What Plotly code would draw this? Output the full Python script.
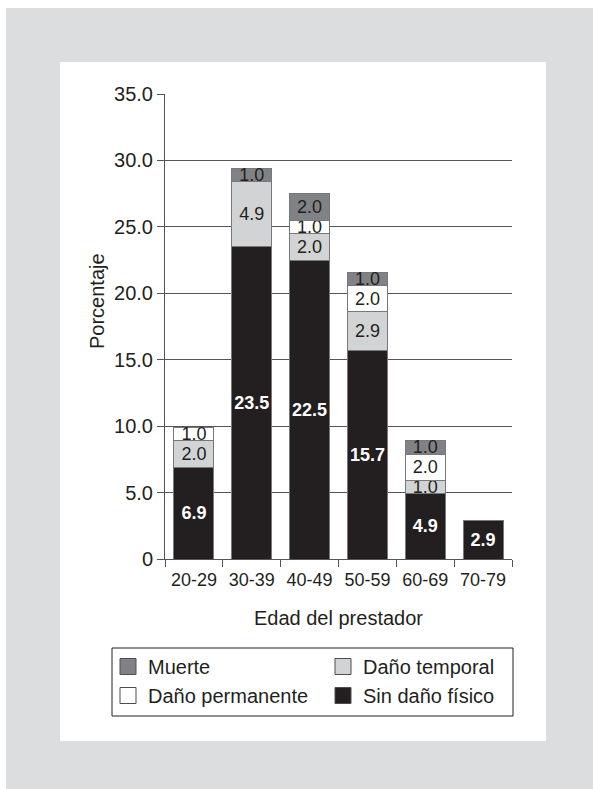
import plotly.graph_objects as go

# ---------------- data ----------------
categories = ["20-29", "30-39", "40-49", "50-59", "60-69", "70-79"]
sin_dano = [6.9, 23.5, 22.5, 15.7, 4.9, 2.9]
dano_temporal = [2.0, 4.9, 2.0, 2.9, 1.0, None]
dano_permanente = [1.0, None, 1.0, 2.0, 2.0, None]
muerte = [None, 1.0, 2.0, 1.0, 1.0, None]
series_names = ["Sin daño físico", "Daño temporal", "Daño permanente", "Muerte"]
y_tickvals = [0, 5, 10, 15, 20, 25, 30, 35]
y_ticktext = ["0", "5.0", "10.0", "15.0", "20.0", "25.0", "30.0", "35.0"]
x_title = "Edad del prestador"
y_title = "Porcentaje"

# ---------------- style ----------------
W, H = 593, 789
ML, MR, MT, MB = 165, 81, 94, 230
PW, PH = W - ML - MR, H - MT - MB
FONT = "Liberation Sans, Arial, Helvetica, sans-serif"
INK = "#231f20"
AXIS = "#555557"
OUTLINE = "#77787b"
fills = ["#231f20", "#d1d3d4", "#ffffff", "#808285"]
text_colors = ["#ffffff", INK, INK, INK]
text_weights = ["bold", "normal", "normal", "normal"]
ranks = [4, 2, 3, 1]


def fmt(vals):
    return ["" if v is None else f"{v:.1f}" for v in vals]


def px_x(p):
    return (p - ML) / PW


def px_y(p):
    return (H - MB - p) / PH


fig = go.Figure()
for name, vals, fill, tc, tw, rk in zip(
    series_names,
    [sin_dano, dano_temporal, dano_permanente, muerte],
    fills, text_colors, text_weights, ranks,
):
    fig.add_trace(go.Bar(
        x=categories, y=vals, name=name,
        marker=dict(color=fill, line=dict(color=OUTLINE, width=1)),
        text=fmt(vals), textposition="inside", insidetextanchor="middle",
        constraintext="none", textangle=0,
        textfont=dict(family=FONT, size=18, color=tc, weight=tw),
        showlegend=False, legendgroup=name,
    ))
    # legend entry with a larger square swatch
    fig.add_trace(go.Scatter(
        x=[None], y=[None], mode="markers", name=name, legendgroup=name,
        marker=dict(symbol="square", size=16, color=fill,
                    line=dict(color="#4d4d4f", width=1)),
        legendrank=rk, hoverinfo="skip",
    ))

shapes = [
    dict(type="rect", xref="paper", yref="paper", layer="below",
         x0=px_x(6), x1=px_x(W + 5), y0=px_y(8), y1=px_y(H + 5),
         fillcolor="#dcdddf", line=dict(width=0)),
    dict(type="rect", xref="paper", yref="paper", layer="below",
         x0=px_x(60), x1=px_x(546), y0=px_y(62), y1=px_y(741),
         fillcolor="#ffffff", line=dict(width=0)),
    # legend frame
    dict(type="rect", xref="paper", yref="paper", layer="above",
         x0=px_x(112), x1=px_x(513), y0=px_y(648), y1=px_y(716),
         fillcolor="rgba(0,0,0,0)", line=dict(color=INK, width=1)),
]

annotations = [
    dict(text=y_title, xref="paper", yref="paper", x=px_x(97), y=px_y(301),
         xanchor="center", yanchor="middle", textangle=-90, showarrow=False,
         font=dict(family=FONT, size=20, color=INK)),
]

fig.update_layout(
    width=W, height=H,
    margin=dict(l=ML, r=MR, t=MT, b=MB, autoexpand=False),
    paper_bgcolor="#ffffff", plot_bgcolor="#ffffff",
    barmode="stack", bargap=0.31,
    font=dict(family=FONT, size=20, color=INK),
    shapes=shapes, annotations=annotations,
    showlegend=True,
    legend=dict(
        orientation="h", x=px_x(108), y=px_y(647), xanchor="left", yanchor="top",
        entrywidth=170, entrywidthmode="pixels",
        borderwidth=0, bgcolor="rgba(0,0,0,0)",
        font=dict(family=FONT, size=20, color=INK),
        traceorder="normal", itemwidth=30, tracegroupgap=0,
    ),
    xaxis=dict(
        type="category", categoryorder="array", categoryarray=categories,
        showline=True, linecolor=AXIS, linewidth=1,
        ticks="outside", tickson="boundaries", ticklen=7, tickcolor=AXIS,
        showgrid=False, zeroline=False, tickangle=0, ticklabelstandoff=4,
        tickfont=dict(family=FONT, size=18, color=INK),
        title=dict(text=x_title, font=dict(family=FONT, size=20, color=INK), standoff=22),
        automargin=False,
    ),
    yaxis=dict(
        range=[0, 35], tickvals=y_tickvals, ticktext=y_ticktext,
        showline=True, linecolor=AXIS, linewidth=1,
        ticks="outside", ticklen=7, tickcolor=AXIS,
        showgrid=True, gridcolor=AXIS, gridwidth=1, zeroline=False,
        tickfont=dict(family=FONT, size=20, color=INK),
        automargin=False,
    ),
)

fig.write_html("out.html", config={"displayModeBar": False},
               post_script="document.body.style.margin='0';")
